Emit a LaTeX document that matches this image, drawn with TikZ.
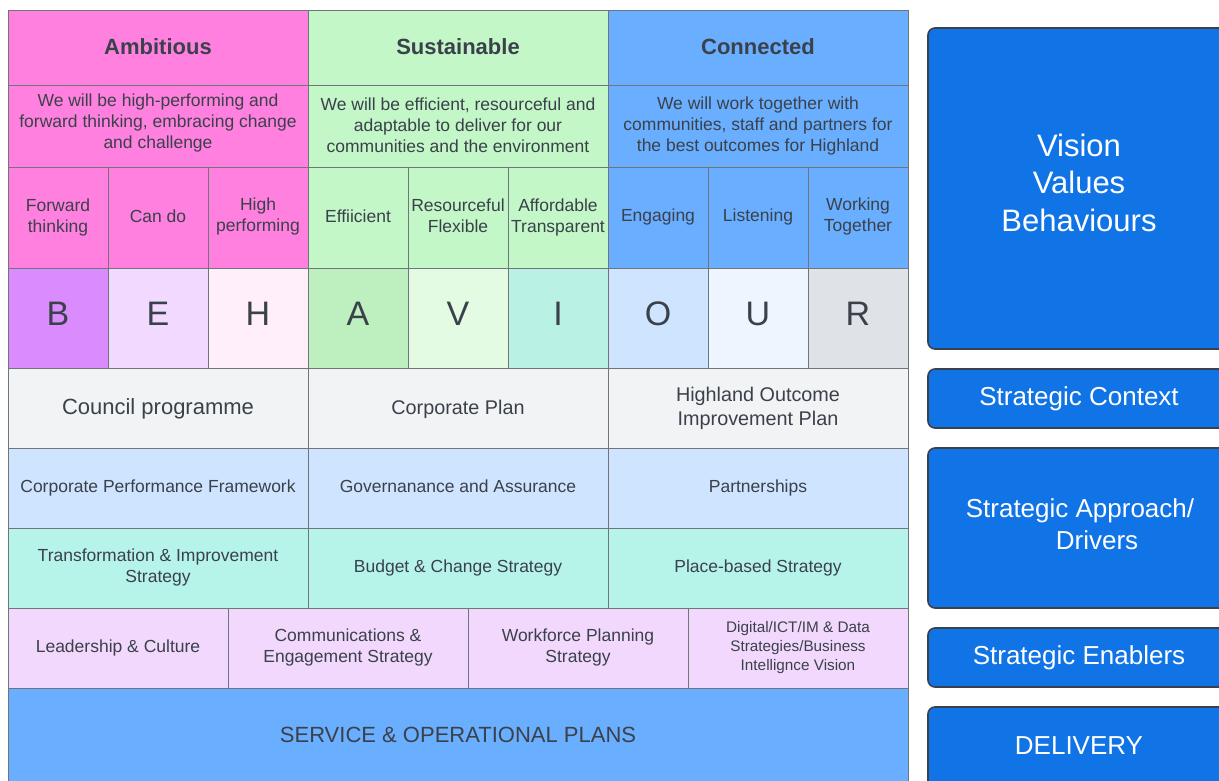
\documentclass[tikz,border=0pt]{standalone}
\usepackage{fontspec}
\setmainfont{Liberation Sans}
\definecolor{txt}{HTML}{3A414A}
\definecolor{grid}{HTML}{70747B}
\definecolor{pinkA}{HTML}{FF80DF}
\definecolor{greenS}{HTML}{C3F7C8}
\definecolor{blueC}{HTML}{6AAFFF}
\definecolor{cB}{HTML}{DA8CFF}
\definecolor{cE}{HTML}{F1D9FF}
\definecolor{cH}{HTML}{FFEFFA}
\definecolor{cA}{HTML}{BDEFBF}
\definecolor{cV}{HTML}{E3FAE3}
\definecolor{cI}{HTML}{B9F2E5}
\definecolor{cO}{HTML}{CFE4FF}
\definecolor{cU}{HTML}{EEF5FF}
\definecolor{cR}{HTML}{DFE2E7}
\definecolor{ctx}{HTML}{F2F3F5}
\definecolor{drv}{HTML}{CFE4FF}
\definecolor{trn}{HTML}{B6F4EA}
\definecolor{enb}{HTML}{F2D8FD}
\definecolor{boxblue}{HTML}{1174E6}
\definecolor{boxedge}{HTML}{3A414A}
\tikzset{
  cell/.style={draw=grid, line width=1pt, text=txt, align=center, inner sep=0pt, outer sep=0pt},
  f22/.style={font=\fontsize{22}{26}\selectfont},
  f22b/.style={font=\fontsize{22}{26}\selectfont\bfseries},
  f20/.style={font=\fontsize{19.8}{24}\selectfont},
  f175/.style={font=\fontsize{17.5}{21}\selectfont},
  f155/.style={font=\fontsize{15.3}{19}\selectfont},
  f34/.style={font=\fontsize{34}{40}\selectfont},
  sidebox/.style={draw=boxedge, line width=1.6pt, fill=boxblue, rounded corners=7pt, text=white, align=center, inner sep=0pt},
  txtonly/.style={text=txt, align=center, inner sep=0pt},
  wtxt/.style={text=white, align=center, inner sep=0pt}
}
\begin{document}
\begin{tikzpicture}[x=1pt,y=-1pt]
\useasboundingbox (0,0) rectangle (1219,781);
\clip (0,0) rectangle (1219,781);
\fill[white] (0,0) rectangle (1219,781);
% row 1
\node[cell, fill=pinkA, minimum width=300pt, minimum height=75pt] (amb) at (158,48.5) {};
\node[txtonly, f22b] at (158,47) {Ambitious};
\node[cell, fill=greenS, minimum width=300pt, minimum height=75pt] (sus) at (458,48.5) {};
\node[txtonly, f22b] at (458,47) {Sustainable};
\node[cell, fill=blueC, minimum width=300pt, minimum height=75pt] (con) at (758,48.5) {};
\node[txtonly, f22b] at (758,47) {Connected};
% row 2
\node[cell, fill=pinkA, minimum width=300pt, minimum height=82pt] (ambd) at (158,127) {};
\node[txtonly, f175] at (158,123) {We will be high-performing and\\forward thinking, embracing change\\and challenge};
\node[cell, fill=greenS, minimum width=300pt, minimum height=82pt] (susd) at (458,127) {};
\node[txtonly, f175] at (458,125.5) {We will be efficient, resourceful and\\adaptable to deliver for our\\communities and the environment};
\node[cell, fill=blueC, minimum width=300pt, minimum height=82pt] (cond) at (758,127) {};
\node[txtonly, f175] at (758,125.5) {We will work together with\\communities, staff and partners for\\the best outcomes for Highland};
% row 3
\node[cell, fill=pinkA, minimum width=100pt, minimum height=100pt] (v1) at (58,218) {};
\node[txtonly, f175] at (58,217) {Forward\\thinking};
\node[cell, fill=pinkA, minimum width=100pt, minimum height=100pt] (v2) at (158,218) {};
\node[txtonly, f175] at (158,216.5) {Can do};
\node[cell, fill=pinkA, minimum width=100pt, minimum height=100pt] (v3) at (258,218) {};
\node[txtonly, f175] at (258,216.5) {High\\performing};
\node[cell, fill=greenS, minimum width=100pt, minimum height=100pt] (v4) at (358,218) {};
\node[txtonly, f175] at (358,216.5) {Effiicient};
\node[cell, fill=greenS, minimum width=100pt, minimum height=100pt] (v5) at (458,218) {};
\node[txtonly, f175] at (458,215.5) {Resourceful\\Flexible};
\node[cell, fill=greenS, minimum width=100pt, minimum height=100pt] (v6) at (558,218) {};
\node[txtonly, f175] at (558,217) {Affordable\\Transparent};
\node[cell, fill=blueC, minimum width=100pt, minimum height=100pt] (v7) at (658,218) {};
\node[txtonly, f175] at (658,216.5) {Engaging};
\node[cell, fill=blueC, minimum width=100pt, minimum height=100pt] (v8) at (758,218) {};
\node[txtonly, f175] at (758,216.5) {Listening};
\node[cell, fill=blueC, minimum width=100pt, minimum height=100pt] (v9) at (858,218) {};
\node[txtonly, f175] at (858,216.5) {Working\\Together};
% row 4 letters
\node[cell, fill=cB, minimum width=100pt, minimum height=100pt] (lB) at (58,318) {};
\node[cell, fill=cE, minimum width=100pt, minimum height=100pt] (lE) at (158,318) {};
\node[cell, fill=cH, minimum width=100pt, minimum height=100pt] (lH) at (258,318) {};
\node[cell, fill=cA, minimum width=100pt, minimum height=100pt] (lA) at (358,318) {};
\node[cell, fill=cV, minimum width=100pt, minimum height=100pt] (lV) at (458,318) {};
\node[cell, fill=cI, minimum width=100pt, minimum height=100pt] (lI) at (558,318) {};
\node[cell, fill=cO, minimum width=100pt, minimum height=100pt] (lO) at (658,318) {};
\node[cell, fill=cU, minimum width=100pt, minimum height=100pt] (lU) at (758,318) {};
\node[cell, fill=cR, minimum width=100pt, minimum height=100pt] (lR) at (858,318) {};
\foreach \l/\x in {B/58,E/158,H/258,A/358,V/458,I/558,O/658,U/758,R/858}
  \node[txtonly, f34] at (\x,314) {\l};
% row 5
\node[cell, fill=ctx, minimum width=300pt, minimum height=80pt] (cp) at (158,408) {};
\node[txtonly, f22] at (158,409) {Council programme};
\node[cell, fill=ctx, minimum width=300pt, minimum height=80pt] (corp) at (458,408) {};
\node[txtonly, f20] at (458,409) {Corporate Plan};
\node[cell, fill=ctx, minimum width=300pt, minimum height=80pt] (hoip) at (758,408) {};
\node[txtonly, f20] at (758,408) {Highland Outcome\\Improvement Plan};
% row 6
\node[cell, fill=drv, minimum width=300pt, minimum height=80pt] (cpf) at (158,488) {};
\node[txtonly, f175] at (158,488) {Corporate Performance Framework};
\node[cell, fill=drv, minimum width=300pt, minimum height=80pt] (gov) at (458,488) {};
\node[txtonly, f175] at (458,486) {Governanance and Assurance};
\node[cell, fill=drv, minimum width=300pt, minimum height=80pt] (par) at (758,488) {};
\node[txtonly, f175] at (758,488) {Partnerships};
% row 7
\node[cell, fill=trn, minimum width=300pt, minimum height=80pt] (tis) at (158,568) {};
\node[txtonly, f175] at (158,567.5) {Transformation \& Improvement\\Strategy};
\node[cell, fill=trn, minimum width=300pt, minimum height=80pt] (bcs) at (458,568) {};
\node[txtonly, f175] at (458,568) {Budget \& Change Strategy};
\node[cell, fill=trn, minimum width=300pt, minimum height=80pt] (pbs) at (758,568) {};
\node[txtonly, f175] at (758,568) {Place-based Strategy};
% row 8
\node[cell, fill=enb, minimum width=220pt, minimum height=80pt] (lc) at (118,648) {};
\node[txtonly, f175] at (118,648) {Leadership \& Culture};
\node[cell, fill=enb, minimum width=240pt, minimum height=80pt] (ces) at (348,648) {};
\node[txtonly, f175] at (348,647) {Communications \&\\Engagement Strategy};
\node[cell, fill=enb, minimum width=220pt, minimum height=80pt] (wps) at (578,648) {};
\node[txtonly, f175] at (578,647) {Workforce Planning\\Strategy};
\node[cell, fill=enb, minimum width=220pt, minimum height=80pt] (dig) at (798,648) {};
\node[txtonly, f155] at (798,648) {Digital/ICT/IM \& Data\\Strategies/Business\\Intellignce Vision};
% row 9
\node[cell, fill=blueC, minimum width=900pt, minimum height=110pt] (sop) at (458,743) {};
\node[txtonly, f22] at (458,735) {SERVICE \& OPERATIONAL PLANS};
% right side boxes
\node[sidebox, minimum width=306pt, minimum height=321pt] (vvb) at (1081,188.5) {};
\node[wtxt, font=\fontsize{31}{37.5}\selectfont] at (1079,182.5) {Vision\\Values\\Behaviours};
\node[sidebox, minimum width=306pt, minimum height=59pt] (sc) at (1081,398.5) {};
\node[wtxt, font=\fontsize{26}{31}\selectfont] at (1079,399) {Strategic Context};
\node[sidebox, minimum width=306pt, minimum height=160pt] (sa) at (1081,528) {};
\node[wtxt, font=\fontsize{26}{32}\selectfont] at (1080,524) {Strategic Approach/\\\hspace*{0pt}\kern34pt Drivers};
\node[sidebox, minimum width=306pt, minimum height=59pt] (se) at (1081,657.5) {};
\node[wtxt, font=\fontsize{26}{31}\selectfont] at (1079,658) {Strategic Enablers};
\node[sidebox, minimum width=306pt, minimum height=90pt] (del) at (1081,752) {};
\node[wtxt, font=\fontsize{26}{31}\selectfont] at (1079,746) {DELIVERY};
\end{tikzpicture}
\end{document}
